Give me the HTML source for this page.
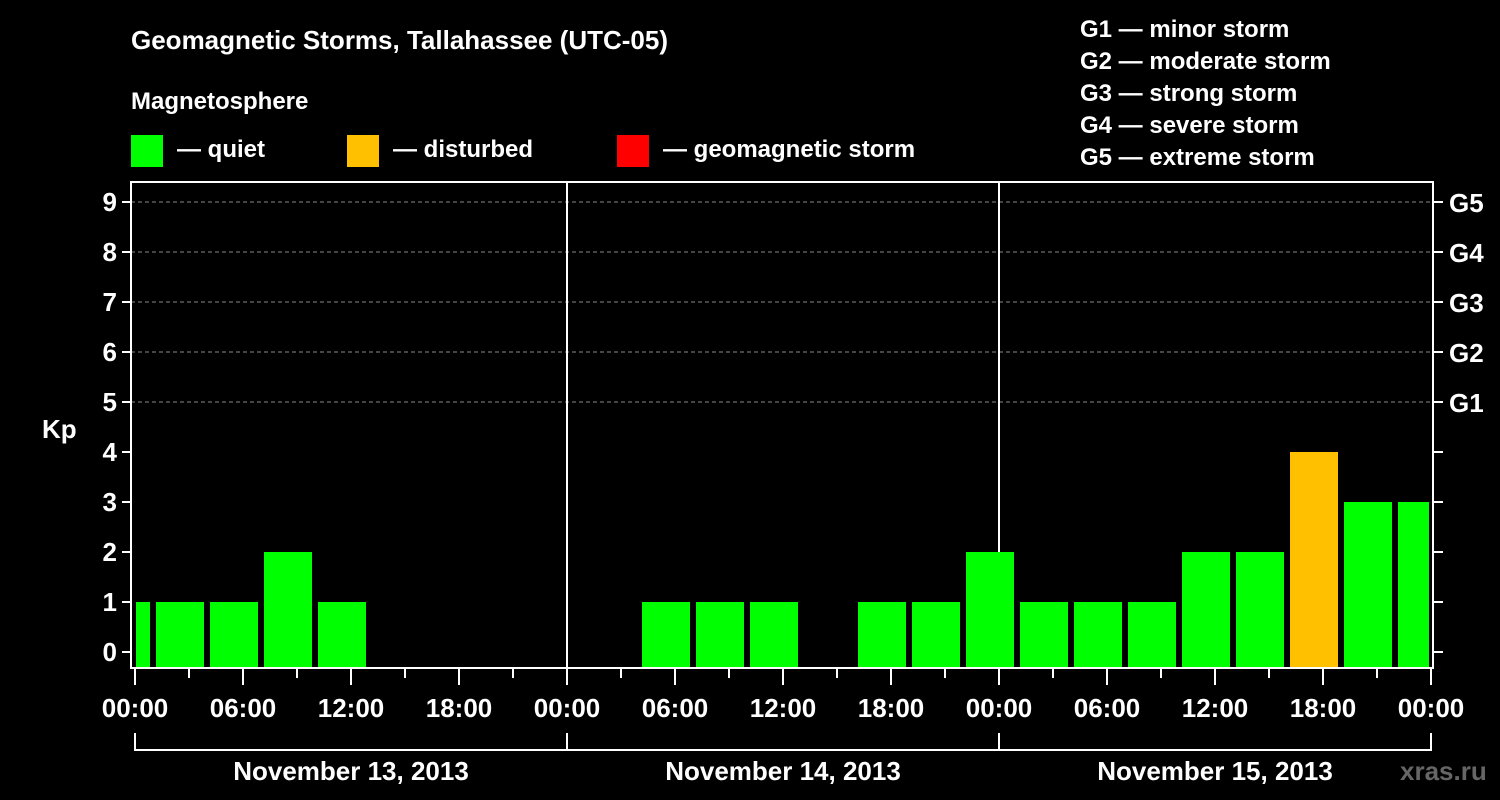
<!DOCTYPE html>
<html><head><meta charset="utf-8"><style>
html,body{margin:0;padding:0;background:#000;}
svg{display:block;font-family:"Liberation Sans",sans-serif;font-weight:bold;}
</style></head><body>
<svg id="chart" width="1500" height="800" viewBox="0 0 1500 800" xmlns="http://www.w3.org/2000/svg">
<rect width="1500" height="800" fill="#000"/>
<text x="131" y="49" fill="#fff" font-size="26">Geomagnetic Storms, Tallahassee (UTC-05)</text>
<text x="131" y="109" fill="#fff" font-size="24">Magnetosphere</text>
<g><rect x="131" y="135" width="32" height="32" fill="#00ff00"/><text x="177" y="157" fill="#fff" font-size="24">— quiet</text></g>
<g><rect x="347" y="135" width="32" height="32" fill="#ffc000"/><text x="393" y="157" fill="#fff" font-size="24">— disturbed</text></g>
<g><rect x="617" y="135" width="32" height="32" fill="#ff0000"/><text x="663" y="157" fill="#fff" font-size="24">— geomagnetic storm</text></g>
<g fill="#fff" font-size="24">
<text x="1080" y="37">G1 — minor storm</text>
<text x="1080" y="69">G2 — moderate storm</text>
<text x="1080" y="101">G3 — strong storm</text>
<text x="1080" y="133">G4 — severe storm</text>
<text x="1080" y="165">G5 — extreme storm</text>
</g>
<text x="42" y="438" fill="#fff" font-size="26">Kp</text>
<text x="1400" y="780" fill="#666" font-size="26">xras.ru</text>
<g id="grid"></g>
<g id="bars"></g>
<g id="axes"></g>
</svg>
<script>
const kpValues=[1,1,1,2,1,0,0,0,0,0,1,1,1,0,1,1,2,1,1,1,2,2,4,3,3];
const barStartHours=[-2,1,4,7,10,13,16,19,22,25,28,31,34,37,40,43,46,49,52,55,58,61,64,67,70];
const yTicks=[0,1,2,3,4,5,6,7,8,9];
const gLabels=["","","","","","G1","G2","G3","G4","G5"];
const xTickLabels=["00:00","06:00","12:00","18:00","00:00","06:00","12:00","18:00","00:00","06:00","12:00","18:00","00:00"];
const dayLabels=["November 13, 2013","November 14, 2013","November 15, 2013"];
const NS="http://www.w3.org/2000/svg";
const X0=135,PXH=18,HOURS=72,L=131,R=1433,T=182,B=668;
const x=h=>X0+h*PXH;
const y=k=>652-k*50;
function mk(tag,attrs,parent){const e=document.createElementNS(NS,tag);for(const k in attrs)e.setAttribute(k,attrs[k]);parent.appendChild(e);return e;}
const grid=document.getElementById('grid'),bars=document.getElementById('bars'),axes=document.getElementById('axes');
yTicks.forEach((k,i)=>{
 if(k>=5){const g=mk('line',{x1:L,x2:R,y1:y(k),y2:y(k),stroke:'#888','stroke-dasharray':'4,3','stroke-width':1},grid);
 
 }
 const t=mk('line',{x1:122,x2:L,y1:y(k),y2:y(k),stroke:'#fff','stroke-width':2},axes);
 
 
 const lb=mk('text',{x:117,y:y(k)+9,fill:'#fff','font-size':26,'text-anchor':'end'},axes);lb.textContent=k;
 
 
 const rt=mk('line',{x1:R,x2:R+10,y1:y(k),y2:y(k),stroke:'#fff','stroke-width':2},axes);
 
 
 if(gLabels[i]){const gl=mk('text',{x:1449,y:y(k)+10,fill:'#fff','font-size':26},axes);gl.textContent=gLabels[i];
 
 }
});
[24,48].forEach(h=>{const d=mk('line',{x1:x(h),x2:x(h),y1:T,y2:B,stroke:'#fff','stroke-width':2},grid);
 
 });
kpValues.forEach((v,i)=>{
 if(v<=0)return;
 let s=Math.max(x(barStartHours[i])+3,X0+1),e=Math.min(x(barStartHours[i]+3)-3,x(HOURS)-2);
 const col=v>=5?'#ff0000':(v>=4?'#ffc000':'#00ff00');
 const r=mk('rect',{x:s,y:y(v),width:e-s,height:B-y(v),fill:col},bars);
 
 
});
const fr=mk('path',{d:`M${L} ${T}H${R}V${B}H${L}Z`,fill:'none',stroke:'#fff','stroke-width':2},axes);


for(let h=0;h<=HOURS;h+=3){
 const major=h%6===0;
 const t=mk('line',{x1:x(h),x2:x(h),y1:B,y2:major?685:678,stroke:'#fff','stroke-width':2},axes);
 
 
 if(major){const lb=mk('text',{x:x(h),y:717,fill:'#fff','font-size':26,'text-anchor':'middle'},axes);lb.textContent=xTickLabels[h/6];
 
 }
}
const br=mk('path',{d:`M${x(0)} 733V750H${x(72)}V733M${x(24)} 733V750M${x(48)} 733V750`,fill:'none',stroke:'#fff','stroke-width':2},axes);


dayLabels.forEach((d,i)=>{const t=mk('text',{x:x(i*24+12),y:780,fill:'#fff','font-size':26,'text-anchor':'middle'},axes);t.textContent=d;
 
 });
</script>
</body></html>
